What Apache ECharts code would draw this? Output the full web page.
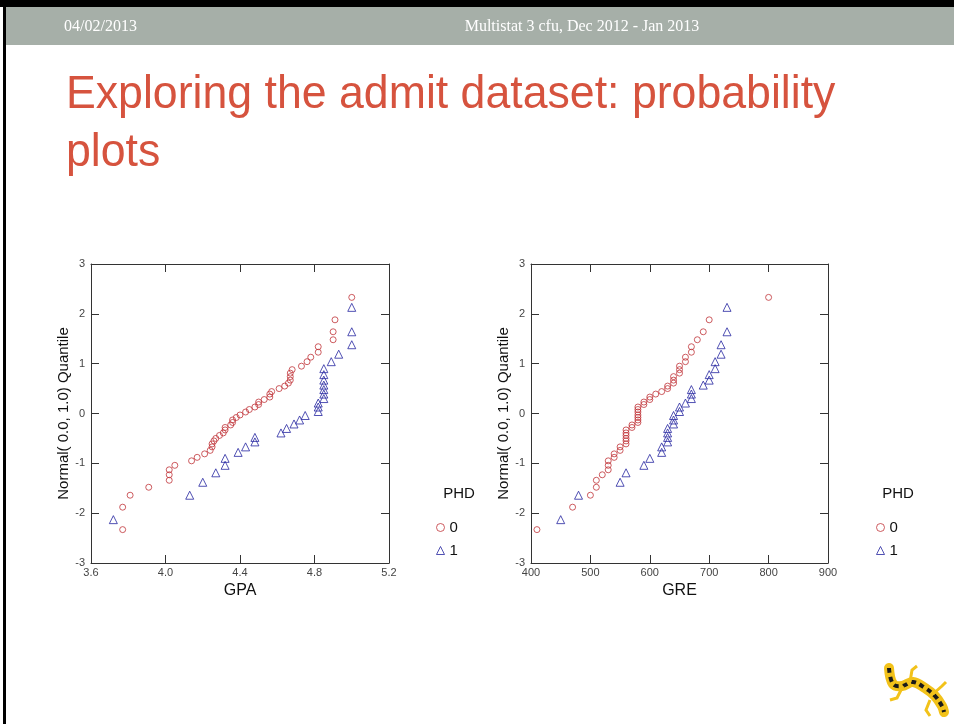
<!DOCTYPE html>
<html>
<head>
<meta charset="utf-8">
<script src="https://cdn.jsdelivr.net/npm/echarts@6/dist/echarts.min.js"></script>
<style>
  html, body { margin: 0; padding: 0; background: #fff; }
  #chart { width: 954px; height: 724px; }
</style>
</head>
<body>
<div id="chart"></div>
<script>
// normal quantiles (PHD = 0 has 50 points, PHD = 1 has 30)
var quant0 = [-2.33, -1.88, -1.64, -1.48, -1.34, -1.23, -1.13, -1.04, -0.95, -0.88,
  -0.81, -0.74, -0.67, -0.61, -0.55, -0.50, -0.44, -0.39, -0.33, -0.28,
  -0.23, -0.18, -0.13, -0.08, -0.03, 0.03, 0.08, 0.13, 0.18, 0.23,
  0.28, 0.33, 0.39, 0.44, 0.50, 0.55, 0.61, 0.67, 0.74, 0.81,
  0.88, 0.95, 1.04, 1.13, 1.23, 1.34, 1.48, 1.64, 1.88, 2.33];
var quant1 = [-2.13, -1.64, -1.38, -1.19, -1.04, -0.90, -0.78, -0.67, -0.57, -0.48,
  -0.39, -0.30, -0.21, -0.13, -0.04, 0.04, 0.13, 0.21, 0.30, 0.39,
  0.48, 0.57, 0.67, 0.78, 0.90, 1.04, 1.19, 1.38, 1.64, 2.13];

var gpa0 = [3.77, 3.77, 3.81, 3.91, 4.02, 4.02, 4.02, 4.05, 4.14, 4.17,
  4.21, 4.24, 4.25, 4.25, 4.26, 4.27, 4.29, 4.31, 4.32, 4.32,
  4.35, 4.36, 4.36, 4.38, 4.40, 4.43, 4.45, 4.48, 4.50, 4.50,
  4.53, 4.56, 4.56, 4.57, 4.61, 4.64, 4.66, 4.67, 4.67, 4.67,
  4.68, 4.73, 4.76, 4.78, 4.82, 4.82, 4.90, 4.90, 4.91, 5.00];
var gpa1 = [3.72, 4.13, 4.20, 4.27, 4.32, 4.32, 4.39, 4.43, 4.48, 4.48,
  4.62, 4.65, 4.69, 4.72, 4.75, 4.82, 4.82, 4.82, 4.85, 4.85,
  4.85, 4.85, 4.85, 4.85, 4.85, 4.89, 4.93, 5.00, 5.00, 5.00];

var gre0 = [410, 470, 500, 510, 510, 520, 530, 530, 530, 540,
  540, 550, 550, 560, 560, 560, 560, 560, 560, 570,
  570, 580, 580, 580, 580, 580, 580, 580, 590, 590,
  600, 600, 610, 620, 630, 630, 640, 640, 640, 650,
  650, 650, 660, 660, 670, 670, 680, 690, 700, 800];
var gre1 = [450, 480, 550, 560, 590, 600, 620, 620, 630, 630,
  630, 630, 640, 640, 640, 650, 650, 660, 670, 670,
  670, 690, 700, 700, 710, 710, 720, 720, 730, 730];

var phdNames = ['0', '1'];
var yTicks = [-3, 3, 1];

var RED = '#c0353a';
var BLUE = '#2626a0';
var AXIS = '#333';

function pairs(xs, ys) {
  return xs.map(function(x, i) { return [x, ys[i]]; });
}

function xAxes(grid, min, max, step, name, digits) {
  var common = {
    gridIndex: grid, type: 'value', min: min, max: max, interval: step,
    splitLine: { show: false },
    axisLine: { show: true, onZero: false, lineStyle: { color: AXIS, width: 1 } },
    axisTick: { show: true, inside: true, length: 8, lineStyle: { color: AXIS } }
  };
  return [
    Object.assign({}, common, {
      position: 'bottom',
      name: name, nameLocation: 'middle', nameGap: 20,
      nameTextStyle: { fontFamily: 'Liberation Sans', fontSize: 16, color: '#111' },
      axisLabel: {
        margin: 4, fontFamily: 'Liberation Sans', fontSize: 11, color: '#444',
        formatter: function(v) { return v.toFixed(digits); }
      }
    }),
    Object.assign({}, common, { position: 'top', axisLabel: { show: false } })
  ];
}

function yAxes(grid) {
  var common = {
    gridIndex: grid, type: 'value', min: yTicks[0], max: yTicks[1], interval: yTicks[2],
    splitLine: { show: false },
    axisLine: { show: true, onZero: false, lineStyle: { color: AXIS, width: 1 } },
    axisTick: { show: true, inside: true, length: 8, lineStyle: { color: AXIS } }
  };
  return [
    Object.assign({}, common, {
      position: 'left',
      name: 'Normal( 0.0, 1.0) Quantile', nameLocation: 'middle', nameGap: 20,
      nameRotate: 90,
      nameTextStyle: { fontFamily: 'Liberation Sans', fontSize: 15, color: '#111' },
      axisLabel: { margin: 6, fontFamily: 'Liberation Sans', fontSize: 11, color: '#444' }
    }),
    Object.assign({}, common, { position: 'right', axisLabel: { show: false } })
  ];
}

function scatter(name, xi, yi, data, symbol, color, size) {
  return {
    name: name, type: 'scatter', xAxisIndex: xi, yAxisIndex: yi,
    symbol: symbol, symbolSize: size, data: data,
    itemStyle: { color: 'rgba(0,0,0,0)', borderColor: color, borderWidth: 1 },
    emphasis: { disabled: true }
  };
}

function legendAt(left, top) {
  return {
    data: phdNames, orient: 'vertical', left: left, top: top,
    itemWidth: 8, itemHeight: 8, itemGap: 8, itemStyle: { borderWidth: 1 },
    textStyle: { fontFamily: 'Liberation Sans', fontSize: 15, color: '#111' },
    selectedMode: false
  };
}

// crude salamander logo, drawn from simple strokes
var logoBody = [[889, 668], [893, 684], [902, 686], [913, 682], [925, 688], [935, 696], [942, 706], [944, 712]];

var chart = echarts.init(document.getElementById('chart'));

var option = {
  backgroundColor: '#fff',
  animation: false,
  grid: [
    { left: 91, top: 264, width: 298, height: 299 },
    { left: 531, top: 264, width: 297, height: 299 }
  ],
  xAxis: xAxes(0, 3.6, 5.2, 0.4, 'GPA', 1).concat(xAxes(1, 400, 900, 100, 'GRE', 0)),
  yAxis: yAxes(0).concat(yAxes(1)),
  legend: [legendAt(431, 515), legendAt(871, 515)],
  series: [
    scatter(phdNames[0], 0, 0, pairs(gpa0, quant0), 'circle', RED, 6),
    scatter(phdNames[1], 0, 0, pairs(gpa1, quant1), 'triangle', BLUE, 8),
    scatter(phdNames[0], 2, 2, pairs(gre0, quant0), 'circle', RED, 6),
    scatter(phdNames[1], 2, 2, pairs(gre1, quant1), 'triangle', BLUE, 8)
  ],
  graphic: [
    { type: 'rect', shape: { x: 0, y: 0, width: 954, height: 7 }, style: { fill: '#000' }, silent: true },
    { type: 'rect', shape: { x: 3, y: 0, width: 3, height: 724 }, style: { fill: '#000' }, silent: true },
    { type: 'rect', shape: { x: 6, y: 7, width: 948, height: 38 }, style: { fill: '#a6afa8' }, silent: true },
    {
      type: 'text', x: 64, y: 27, silent: true,
      style: { text: '04/02/2013', fill: '#fff', font: '16px "Liberation Serif"', verticalAlign: 'middle' }
    },
    {
      type: 'text', x: 582, y: 27, silent: true,
      style: { text: 'Multistat 3 cfu, Dec 2012 - Jan 2013', fill: '#fff', font: '16px "Liberation Serif"',
        align: 'center', verticalAlign: 'middle' }
    },
    {
      type: 'text', x: 66, y: 72, scaleX: 0.95, silent: true,
      style: { text: 'Exploring the admit dataset: probability', fill: '#d6533e',
        font: '47px "Liberation Sans"', verticalAlign: 'top' }
    },
    {
      type: 'text', x: 66, y: 130, scaleX: 0.95, silent: true,
      style: { text: 'plots', fill: '#d6533e', font: '47px "Liberation Sans"', verticalAlign: 'top' }
    },
    {
      type: 'text', x: 459, y: 494, silent: true,
      style: { text: 'PHD', fill: '#111', font: '15px "Liberation Sans"', align: 'center', verticalAlign: 'middle' }
    },
    {
      type: 'text', x: 898, y: 494, silent: true,
      style: { text: 'PHD', fill: '#111', font: '15px "Liberation Sans"', align: 'center', verticalAlign: 'middle' }
    },
    {
      type: 'polyline', silent: true, shape: { points: logoBody, smooth: 0.4 },
      style: { stroke: '#f2c21a', lineWidth: 10, lineCap: 'round', fill: null }
    },
    {
      type: 'polyline', silent: true, shape: { points: logoBody, smooth: 0.4 },
      style: { stroke: '#1a1a1a', lineWidth: 4, lineDash: [5, 4], fill: null }
    },
    {
      type: 'polyline', silent: true, shape: { points: [[903, 686], [897, 698], [890, 700]] },
      style: { stroke: '#f2c21a', lineWidth: 3, fill: null }
    },
    {
      type: 'polyline', silent: true, shape: { points: [[910, 682], [912, 670], [917, 666]] },
      style: { stroke: '#f2c21a', lineWidth: 3, fill: null }
    },
    {
      type: 'polyline', silent: true, shape: { points: [[933, 694], [942, 686], [946, 682]] },
      style: { stroke: '#f2c21a', lineWidth: 3, fill: null }
    },
    {
      type: 'polyline', silent: true, shape: { points: [[930, 700], [926, 710], [930, 716]] },
      style: { stroke: '#f2c21a', lineWidth: 3, fill: null }
    }
  ]
};

chart.setOption(option);
</script>
</body>
</html>
